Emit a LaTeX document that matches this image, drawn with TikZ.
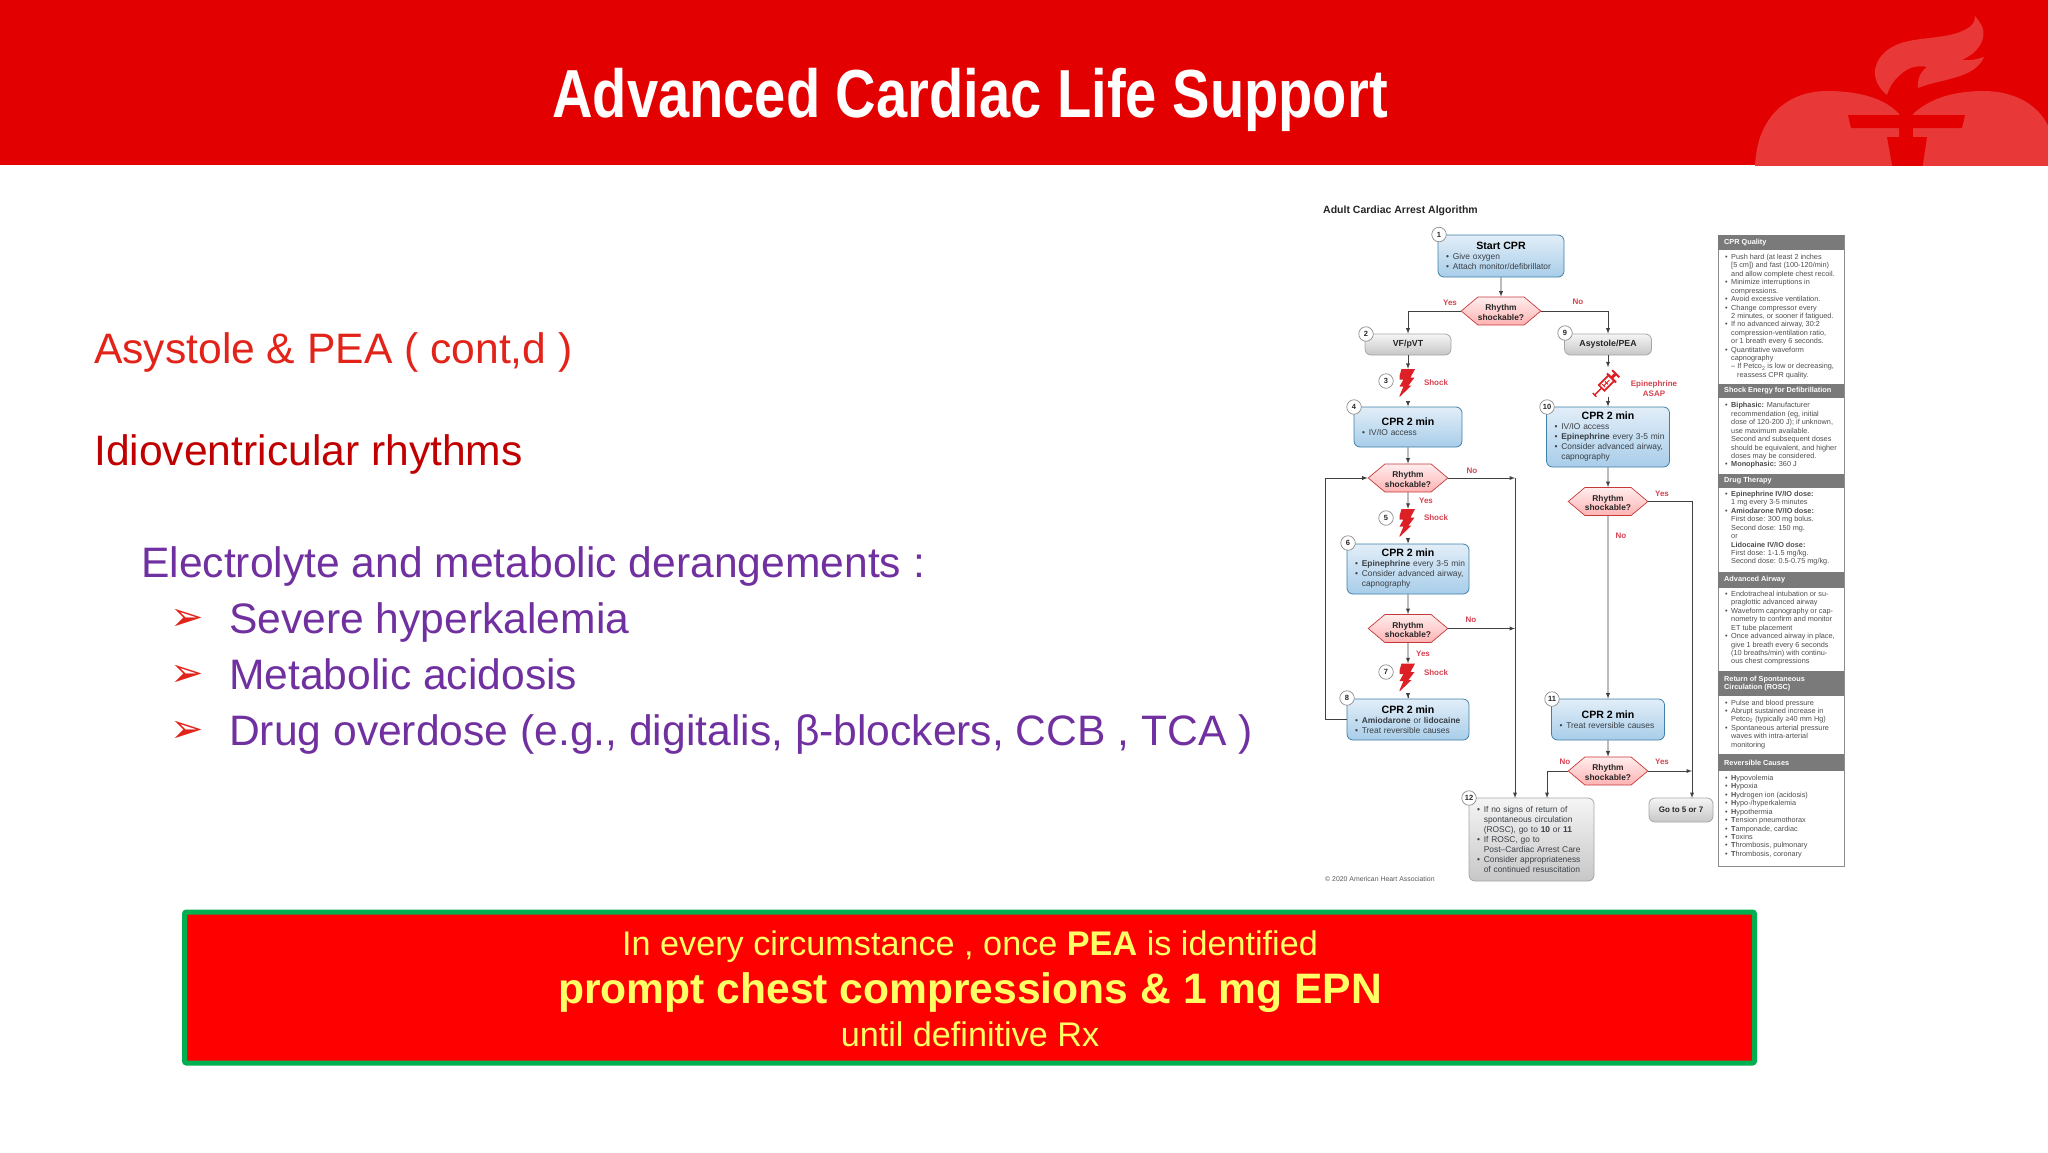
\documentclass[tikz,border=0pt]{standalone}
\usepackage{fontspec}
\setmainfont{Liberation Sans}
\newfontfamily\arrowfont{DejaVu Sans}
\usetikzlibrary{shapes.symbols}

\definecolor{bandred}{HTML}{E30000}
\definecolor{logored}{HTML}{E83838}
\definecolor{slidered}{HTML}{E2231A}
\definecolor{darkred}{HTML}{C00000}
\definecolor{slidepurple}{HTML}{7030A0}
\definecolor{boxgreen}{HTML}{00B050}
\definecolor{boxyellow}{HTML}{FFFF66}
\definecolor{tagred}{HTML}{D5414F}
\definecolor{boltred}{HTML}{DD1F26}
\definecolor{inkgray}{HTML}{3A3F45}
\definecolor{headgray}{HTML}{7A7A7A}
\definecolor{cprtop}{HTML}{E2EEF8}
\definecolor{cprbot}{HTML}{A8CDE9}
\definecolor{cprline}{HTML}{3F7FA8}

\newcommand{\fs}[2]{\fontsize{#1}{#2}\selectfont}
\newcommand{\bx}{\hspace*{5pt}\makebox[6.8pt][l]{\textbullet}}
\newcommand{\pb}{\makebox[6pt][l]{\textbullet}}
\newcommand{\cn}{\hspace*{11.8pt}}
\newcommand{\pn}{\hspace*{6pt}}
\newcommand{\boxhead}[1]{\makebox[\linewidth][c]{\fs{10.6}{13}\bfseries\color{black}#1}}
\newcommand{\shockq}{\rule{0pt}{9pt}Rhythm\\shockable?}

\tikzset{
    slidetext/.style={anchor=base west, inner sep=0, font=\fs{42.6}{50}},
    bullettext/.style={anchor=base west, inner sep=0, text=slidered, font=\arrowfont\fs{40}{46}},
    conn/.style={draw=black!75, line width=0.9pt},
    arr/.style={conn, -latex},
    cprbox/.style={draw=cprline, rounded corners=6pt, line width=0.8pt, top color=cprtop, bottom color=cprbot, inner xsep=3pt, inner ysep=0pt, align=left, text=inkgray, font=\fs{8.4}{10}},
    graybox/.style={draw=black!35, rounded corners=6pt, line width=0.8pt, top color=black!4, bottom color=black!22, inner sep=0pt, align=center, text=black!85, font=\bfseries\fs{8.8}{10}},
    hexbox/.style={signal, signal to=east and west, signal pointer angle=80, draw=red!55!gray, line width=0.7pt, top color=red!7!white, bottom color=red!30!white, inner sep=0pt, minimum width=76pt, minimum height=28pt, align=center, text=black!85, font=\bfseries\fs{8.4}{9.8}},
    numc/.style={circle, draw=black!45, fill=white, line width=0.7pt, minimum size=14.5pt, inner sep=0pt, text=black!85, font=\bfseries\fs{7.5}{9}},
    tag/.style={inner sep=0pt, align=center, text=tagred, font=\bfseries\fs{8}{9.6}},
    bolt/.style={inner sep=0pt, minimum width=17pt, minimum height=29pt, path picture={
        \fill[boltred, shift={(path picture bounding box.center)}] (-6.5,-14.5) -- (7,-14.5) -- (2.5,-6) -- (6.5,-6) -- (0.5,2) -- (3.5,2) -- (-9.5,14.5) -- (-4.5,3) -- (-8.5,3) -- (-4.5,-4) -- (-9.5,-4) -- cycle;}},
    panelhead/.style={anchor=west, inner sep=0pt, text=white, font=\bfseries\fs{7.3}{8.4}, align=left},
    paneltext/.style={anchor=north west, inner sep=0pt, text=black!70, font=\fs{7.3}{8.42}, align=left}
}

\begin{document}
\begin{tikzpicture}[x=1pt, y=-1pt]
    \useasboundingbox (0,0) rectangle (2048,1152);

    % top band and logo
    \fill[bandred] (0,0) rectangle (2048,165);
    \begin{scope}
        \clip (0,0) rectangle (2048,165);
        \fill[logored] (1755,170) .. controls (1755,120) and (1785,91) .. (1827,91) .. controls (1858,91) and (1885,98) .. (1899,114) -- (1899,170) -- cycle;
        \fill[logored] (1913,114) .. controls (1930,98) and (1955,91) .. (1983,91) .. controls (2015,91) and (2040,105) .. (2050,130) -- (2050,170) -- (1913,170) -- cycle;
        \fill[logored] (1975,16) .. controls (1980,22) and (1985,28) .. (1983,38) .. controls (1980,50) and (1970,56) .. (1962,60) .. controls (1970,61) and (1978,59) .. (1984,57) .. controls (1980,66) and (1972,72) .. (1960,76) .. controls (1945,81) and (1930,83) .. (1918,88) .. controls (1917,80) and (1920,72) .. (1927,67) .. controls (1918,65) and (1908,67) .. (1900,75) .. controls (1893,81) and (1889,88) .. (1887,95) .. controls (1878,88) and (1874,78) .. (1875,70) .. controls (1877,58) and (1885,50) .. (1896,45) .. controls (1915,36) and (1950,40) .. (1968,28) .. controls (1973,25) and (1975,21) .. (1975,16) -- cycle;
        \fill[bandred] (1848,115) -- (1965,115) -- (1962,128) -- (1851,128) -- cycle;
        \fill[bandred] (1887,137) -- (1927,137) -- (1922,170) -- (1893,170) -- cycle;
    \end{scope}
    \node (title) at (970,100) [xscale=0.825, inner sep=0, text=white, font=\bfseries\fs{68}{74}] {Advanced Cardiac Life Support};

    % left hand text
    \node (t1) at (94,363) [slidetext, text=slidered] {Asystole \& PEA ( cont,d )};
    \node (t2) at (94,465) [slidetext, text=darkred] {Idioventricular rhythms};
    \node (t3) at (141,577) [slidetext, text=slidepurple] {Electrolyte and metabolic derangements :};
    \node (a1) at (170,630) [bullettext] {➢};
    \node (a2) at (170,686) [bullettext] {➢};
    \node (a3) at (170,742) [bullettext] {➢};
    \node (t4) at (229,633) [slidetext, text=slidepurple] {Severe hyperkalemia};
    \node (t5) at (229,689) [slidetext, text=slidepurple] {Metabolic acidosis};
    \node (t6) at (229,745) [slidetext, text=slidepurple] {Drug overdose (e.g., digitalis, β-blockers, CCB , TCA )};

    % bottom box
    \node (redbox) at (969.5,987.5) [draw=boxgreen, fill=red, line width=5pt, rounded corners=2pt, minimum width=1570pt, minimum height=151pt] {};
    \node (l1) at (970,946.5) [inner sep=0, text=boxyellow, font=\fs{34.2}{40}] {In every circumstance , once \textbf{PEA} is identified};
    \node (l2) at (970,993) [inner sep=0, text=boxyellow, font=\bfseries\fs{42.6}{48}] {prompt chest compressions \& 1 mg EPN};
    \node (l3) at (970,1034) [inner sep=0, text=boxyellow, font=\fs{34.2}{40}] {until definitive Rx};

    % algorithm
    \node (algtitle) at (1323,211) [anchor=west, inner sep=0, text=black!85, font=\bfseries\fs{10.5}{12}] {Adult Cardiac Arrest Algorithm};
    \node (copy) at (1325,879) [anchor=west, inner sep=0, text=black!65, font=\fs{6.9}{8}] {© 2020 American Heart Association};

    \node (n1) at (1501,256) [cprbox, minimum width=126pt, minimum height=42pt, text width=120pt] {\boxhead{Start CPR}\\\bx Give oxygen\\\bx Attach monitor/defibrillator};
    \node (d1) at (1501,311) [hexbox] {\shockq};
    \node (n2) at (1408,344.5) [graybox, minimum width=86pt, minimum height=21pt] {VF/pVT};
    \node (n9) at (1608,344.5) [graybox, minimum width=87pt, minimum height=21pt] {Asystole/PEA};

    \node (b3) at (1408,383.5) [bolt] {};
    \node (n4) at (1408,427) [cprbox, minimum width=108pt, minimum height=40pt, text width=102pt] {\boxhead{CPR 2 min}\\\bx IV/IO access};
    \node (d4) at (1408,478) [hexbox] {\shockq};
    \node (b5) at (1408,523.5) [bolt] {};
    \node (n6) at (1408,569) [cprbox, minimum width=122pt, minimum height=50pt, text width=116pt] {\boxhead{CPR 2 min}\\\bx \textbf{Epinephrine} every 3-5 min\\\bx Consider advanced airway,\\\cn capnography};
    \node (d6) at (1408,628.5) [hexbox] {\shockq};
    \node (b7) at (1408,678) [bolt] {};
    \node (n8) at (1408,719.5) [cprbox, minimum width=122pt, minimum height=41pt, text width=116pt] {\boxhead{CPR 2 min}\\\bx \textbf{Amiodarone} or \textbf{lidocaine}\\\bx Treat reversible causes};

    \node (s9) at (1608,381.5) [inner sep=0pt, minimum width=28pt, minimum height=28pt] {};
    \begin{scope}[shift={(s9.center)}, rotate=45, boltred]
        \draw[line width=1.7pt, fill=white] (-9,-4) rectangle (5,4);
        \draw[line width=1.4pt] (-17,0) -- (-9,0);
        \draw[line width=1.4pt] (-19,-2.5) -- (-19,2.5) (-19,0) -- (-17,0);
        \draw[line width=2pt] (5,-6.5) -- (5,6.5);
        \fill (5,-1.5) rectangle (11,1.5);
        \draw[line width=2pt] (11,-5) -- (11,5);
        \draw[line width=1pt] (-6,0) -- (2,0) (-6,-2) -- (-6,2) (-2,-2) -- (-2,2);
    \end{scope}
    \node (n10) at (1608,437) [cprbox, minimum width=123pt, minimum height=60pt, text width=117pt] {\boxhead{CPR 2 min}\\\bx IV/IO access\\\bx \textbf{Epinephrine} every 3-5 min\\\bx Consider advanced airway,\\\cn capnography};
    \node (d10) at (1608,501.5) [hexbox] {\shockq};
    \node (n11) at (1608,719.5) [cprbox, minimum width=113pt, minimum height=41pt, text width=107pt] {\boxhead{CPR 2 min}\\\bx Treat reversible causes};
    \node (d11) at (1608,771) [hexbox] {\shockq};

    \node (n12) at (1531.5,839.5) [cprbox, draw=black!35, top color=black!4, bottom color=black!22, minimum width=125pt, minimum height=83pt, text width=119pt] {\bx If no signs of return of\\\cn spontaneous circulation\\\cn (ROSC), go to \textbf{10} or \textbf{11}\\\bx If ROSC, go to\\\cn Post--Cardiac Arrest Care\\\bx Consider appropriateness\\\cn of continued resuscitation};
    \node (go) at (1681,810) [graybox, minimum width=64pt, minimum height=24pt, font=\bfseries\fs{8}{10}] {Go to 5 or 7};

    \coordinate (loop) at (1325,478);
    \coordinate (rail4) at (1515,478);
    \coordinate (rail6) at (1515,628.5);
    \coordinate (in12a) at (1515,798);
    \coordinate (in12b) at (1547,798);
    \coordinate (rail11) at (1692,771);
    \coordinate (ingo) at (1692,798);

    \draw[arr] (n1) -- (d1);
    \draw[arr] (d1.west) -| (n2.north);
    \draw[arr] (d1.east) -| (n9.north);
    \draw[arr] (n2) -- (b3.north);
    \draw[arr, shorten <=5pt] (b3.south) -- (n4.north);
    \draw[arr] (n4) -- (d4);
    \draw[arr] (d4) -- (b5.north);
    \draw[arr, shorten <=4pt] (b5.south) -- (n6.north);
    \draw[arr] (n6) -- (d6);
    \draw[arr] (d6) -- (b7.north);
    \draw[arr, shorten <=5pt] (b7.south) -- (n8.north);
    \draw[arr] (n8.west) -| (loop) -- (d4.west);
    \draw[arr] (d4.east) -- (rail4);
    \draw[arr] (d6.east) -- (rail6);
    \draw[arr] (rail4) -- (in12a);
    \draw[arr] (n9) -- (s9.north);
    \draw[arr, shorten <=1pt] (s9.south) -- (n10.north);
    \draw[arr] (n10) -- (d10);
    \draw[arr] (d10) -- (n11);
    \draw[arr] (n11) -- (d11);
    \draw[arr] (d10.east) -| (ingo);
    \draw[arr] (d11.east) -- (rail11);
    \draw[arr] (d11.west) -| (in12b);

    \node (c1) at (1439,234.5) [numc] {1};
    \node (c2) at (1366,334) [numc] {2};
    \node (c3) at (1386,381) [numc] {3};
    \node (c4) at (1354,407) [numc] {4};
    \node (c5) at (1386,518) [numc] {5};
    \node (c6) at (1348,543) [numc] {6};
    \node (c7) at (1386,672) [numc] {7};
    \node (c8) at (1347,698) [numc] {8};
    \node (c9) at (1565,333) [numc] {9};
    \node (c10) at (1547,407) [numc] {10};
    \node (c11) at (1552,699) [numc] {11};
    \node (c12) at (1469,798) [numc] {12};

    \node (yes1) at (1450,303) [tag] {Yes};
    \node (no1) at (1578,302) [tag] {No};
    \node (shock3) at (1436,383) [tag] {Shock};
    \node (epi) at (1654,388.5) [tag] {Epinephrine\\ASAP};
    \node (no4) at (1472,471) [tag] {No};
    \node (yes4) at (1426,501) [tag] {Yes};
    \node (shock5) at (1436,518) [tag] {Shock};
    \node (no6) at (1471,620) [tag] {No};
    \node (yes6) at (1423,654) [tag] {Yes};
    \node (shock7) at (1436,673) [tag] {Shock};
    \node (yes10) at (1662,494) [tag] {Yes};
    \node (no10) at (1621,536) [tag] {No};
    \node (no11) at (1565,762) [tag] {No};
    \node (yes11) at (1662,762) [tag] {Yes};

    % side panel
    \node (panel) at (1781,550.5) [draw=black!45, line width=0.8pt, minimum width=126pt, minimum height=631pt, inner sep=0] {};
    \fill[headgray] (1718,235) rectangle (1844,250);
    \fill[headgray] (1718,384) rectangle (1844,398);
    \fill[headgray] (1718,474) rectangle (1844,488);
    \fill[headgray] (1718,572) rectangle (1844,588);
    \fill[headgray] (1718,671) rectangle (1844,696);
    \fill[headgray] (1718,754) rectangle (1844,771);

    \node (h1) at (1724,243) [panelhead] {CPR Quality};
    \node (h2) at (1724,391) [panelhead] {Shock Energy for Defibrillation};
    \node (h3) at (1724,481) [panelhead] {Drug Therapy};
    \node (h4) at (1724,580) [panelhead] {Advanced Airway};
    \node (h5) at (1724,683.5) [panelhead] {Return of Spontaneous\\Circulation (ROSC)};
    \node (h6) at (1724,762.5) [panelhead] {Reversible Causes};

    \node (p1) at (1725,254) [paneltext] {\pb Push hard (at least 2 inches\\\pn [5 cm]) and fast (100-120/min)\\\pn and allow complete chest recoil.\\\pb Minimize interruptions in\\\pn compressions.\\\pb Avoid excessive ventilation.\\\pb Change compressor every\\\pn 2 minutes, or sooner if fatigued.\\\pb If no advanced airway, 30:2\\\pn compression-ventilation ratio,\\\pn or 1 breath every 6 seconds.\\\pb Quantitative waveform\\\pn capnography\\\pn -- If Petco\textsubscript{2} is low or decreasing,\\\pn\pn reassess CPR quality.};
    \node (p2) at (1725,402.5) [paneltext] {\pb \textbf{Biphasic:} Manufacturer\\\pn recommendation (eg, initial\\\pn dose of 120-200 J); if unknown,\\\pn use maximum available.\\\pn Second and subsequent doses\\\pn should be equivalent, and higher\\\pn doses may be considered.\\\pb \textbf{Monophasic:} 360 J};
    \node (p3) at (1725,491) [paneltext] {\pb \textbf{Epinephrine IV/IO dose:}\\\pn 1 mg every 3-5 minutes\\\pb \textbf{Amiodarone IV/IO dose:}\\\pn First dose: 300 mg bolus.\\\pn Second dose: 150 mg.\\\pn or\\\pn \textbf{Lidocaine IV/IO dose:}\\\pn First dose: 1-1.5 mg/kg.\\\pn Second dose: 0.5-0.75 mg/kg.};
    \node (p4) at (1725,591) [paneltext] {\pb Endotracheal intubation or su-\\\pn praglottic advanced airway\\\pb Waveform capnography or cap-\\\pn nometry to confirm and monitor\\\pn ET tube placement\\\pb Once advanced airway in place,\\\pn give 1 breath every 6 seconds\\\pn (10 breaths/min) with continu-\\\pn ous chest compressions};
    \node (p5) at (1725,699.5) [paneltext] {\pb Pulse and blood pressure\\\pb Abrupt sustained increase in\\\pn Petco\textsubscript{2} (typically ≥40 mm Hg)\\\pb Spontaneous arterial pressure\\\pn waves with intra-arterial\\\pn monitoring};
    \node (p6) at (1725,775) [paneltext] {\pb \textbf{H}ypovolemia\\\pb \textbf{H}ypoxia\\\pb \textbf{H}ydrogen ion (acidosis)\\\pb \textbf{H}ypo-/hyperkalemia\\\pb \textbf{H}ypothermia\\\pb \textbf{T}ension pneumothorax\\\pb \textbf{T}amponade, cardiac\\\pb \textbf{T}oxins\\\pb \textbf{T}hrombosis, pulmonary\\\pb \textbf{T}hrombosis, coronary};

\end{tikzpicture}
\end{document}
